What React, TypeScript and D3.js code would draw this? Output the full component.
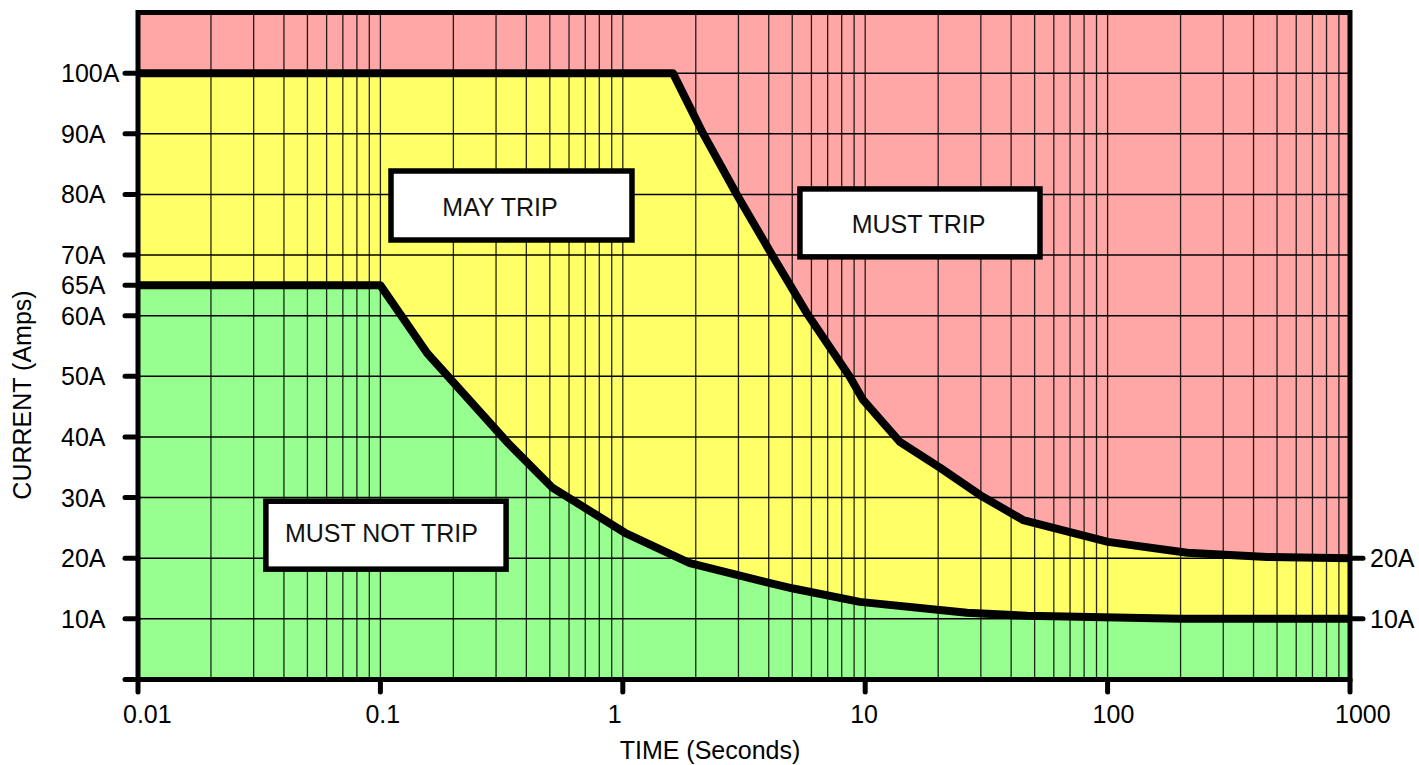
import React from "react";
import * as d3 from "d3";

// ---- data ----
const mustTripTime = [0.01, 1.61, 2.14, 2.96, 4.13, 5.81, 8.65, 9.8, 13.9, 20.4, 29.8, 44.8, 100.4, 213, 455, 1000];
const mustTripAmps = [100, 100, 90.1, 79.9, 70.0, 60.1, 49.9, 46.1, 39.2, 34.9, 30.4, 26.3, 22.7, 20.9, 20.2, 20.0];

const mustNotTripTime = [0.01, 0.1, 0.156, 0.336, 0.51, 1.02, 1.89, 4.05, 5.05, 9.5, 26.3, 46.5, 199, 1000];
const mustNotTripAmps = [65, 65, 53.8, 39.0, 31.7, 24.2, 19.2, 15.9, 15.0, 12.8, 11.0, 10.5, 10.0, 10.0];

const xTickValues = [0.01, 0.1, 1, 10, 100, 1000];
const xTickLabels = ["0.01", "0.1", "1", "10", "100", "1000"];
const yTickValues = [0, 10, 20, 30, 40, 50, 60, 65, 70, 80, 90, 100];
const yTickLabels = ["", "10A", "20A", "30A", "40A", "50A", "60A", "65A", "70A", "80A", "90A", "100A"];
const yGridValues = [10, 20, 30, 40, 50, 60, 70, 80, 90, 100];
const rightTickValues = [20, 10];
const rightTickLabels = ["20A", "10A"];

const zoneLabels = ["MAY TRIP", "MUST TRIP", "MUST NOT TRIP"];
// box extents in data units (time from, time to, amps top, amps bottom) and text anchor (time, amps)
const zoneBoxT0 = [0.1106, 5.38, 0.0337];
const zoneBoxT1 = [1.091, 52.6, 0.33];
const zoneBoxA0 = [83.86, 80.9, 29.4];
const zoneBoxA1 = [72.48, 69.7, 18.2];
const zoneTextT = [0.3115, 16.6, 0.101];
const zoneTextA = [76.4, 73.6, 22.7];

const W = 1419;
const H = 765;
const FONT = "'Liberation Sans', Arial, Helvetica, sans-serif";

export default function App() {
  const x = d3.scaleLog().domain([0.01, 1000]).range([138, 1350]);
  const y = d3.scaleLinear().domain([0, 110]).range([679.5, 12.5]);

  const upper = mustTripTime.map((t, i) => [t, mustTripAmps[i]] as [number, number]);
  const lower = mustNotTripTime.map((t, i) => [t, mustNotTripAmps[i]] as [number, number]);

  const line = d3
    .line<[number, number]>()
    .x((d) => x(d[0]))
    .y((d) => y(d[1]));
  const area = d3
    .area<[number, number]>()
    .x((d) => x(d[0]))
    .y0(y(0))
    .y1((d) => y(d[1]));

  const xGrid: number[] = [];
  for (let e = -2; e <= 2; e++) {
    for (let k = 1; k <= 9; k++) xGrid.push(k * Math.pow(10, e));
  }

  const [x0, x1] = x.range();
  const [yB, yT] = y.range();

  return (
    <svg
      width={W}
      height={H}
      style={{ position: "absolute", left: 0, top: 0, background: "#fff" }}
      fontFamily={FONT}
    >
      <rect x={x0} y={yT} width={x1 - x0} height={yB - yT} fill="#FFA6A6" />
      <path d={area(upper) || ""} fill="#FFFF66" />
      <path d={area(lower) || ""} fill="#96FF8F" />

      {xGrid.map((v, i) => (
        <line key={"xg" + i} x1={x(v)} x2={x(v)} y1={yT} y2={yB} stroke="#000" strokeOpacity={0.85} strokeWidth={1.3} />
      ))}
      {yGridValues.map((v, i) => (
        <line key={"yg" + i} x1={x0} x2={x1} y1={y(v)} y2={y(v)} stroke="#000" strokeWidth={1.5} />
      ))}

      <path d={line(upper) || ""} fill="none" stroke="#000" strokeWidth={8} strokeLinejoin="round" />
      <path d={line(lower) || ""} fill="none" stroke="#000" strokeWidth={8} strokeLinejoin="round" />

      <rect x={x0} y={yT} width={x1 - x0} height={yB - yT} fill="none" stroke="#000" strokeWidth={5} />

      {yTickValues.map((v, i) => (
        <g key={"yt" + i}>
          <line x1={125} x2={x0} y1={y(v)} y2={y(v)} stroke="#000" strokeWidth={5} strokeLinecap="round" />
          {yTickLabels[i] && (
            <text x={61} y={y(v) + 9} fontSize={25} fill="#000">
              {yTickLabels[i]}
            </text>
          )}
        </g>
      ))}

      {rightTickValues.map((v, i) => (
        <g key={"rt" + i}>
          <line x1={x1} x2={1363} y1={y(v)} y2={y(v)} stroke="#000" strokeWidth={5} strokeLinecap="round" />
          <text x={1370} y={y(v) + 9} fontSize={25} fill="#000">
            {rightTickLabels[i]}
          </text>
        </g>
      ))}

      {xTickValues.map((v, i) => (
        <g key={"xt" + i}>
          <line x1={x(v)} x2={x(v)} y1={yB} y2={692} stroke="#000" strokeWidth={5} strokeLinecap="round" />
          <text x={x(v) - 15} y={723} fontSize={25} fill="#000">
            {xTickLabels[i]}
          </text>
        </g>
      ))}

      {zoneLabels.map((lab, i) => (
        <g key={"z" + i}>
          <rect
            x={x(zoneBoxT0[i])}
            y={y(zoneBoxA0[i])}
            width={x(zoneBoxT1[i]) - x(zoneBoxT0[i])}
            height={y(zoneBoxA1[i]) - y(zoneBoxA0[i])}
            fill="#fff"
            stroke="#000"
            strokeWidth={5.5}
          />
          <text x={x(zoneTextT[i])} y={y(zoneTextA[i])} fontSize={25} textAnchor="middle" fill="#111">
            {lab}
          </text>
        </g>
      ))}

      <text x={710} y={759} fontSize={25} textAnchor="middle" fill="#000">
        TIME (Seconds)
      </text>
      <text transform="translate(30.5,395) rotate(-90)" fontSize={25} textAnchor="middle" fill="#000">
        CURRENT (Amps)
      </text>
    </svg>
  );
}
